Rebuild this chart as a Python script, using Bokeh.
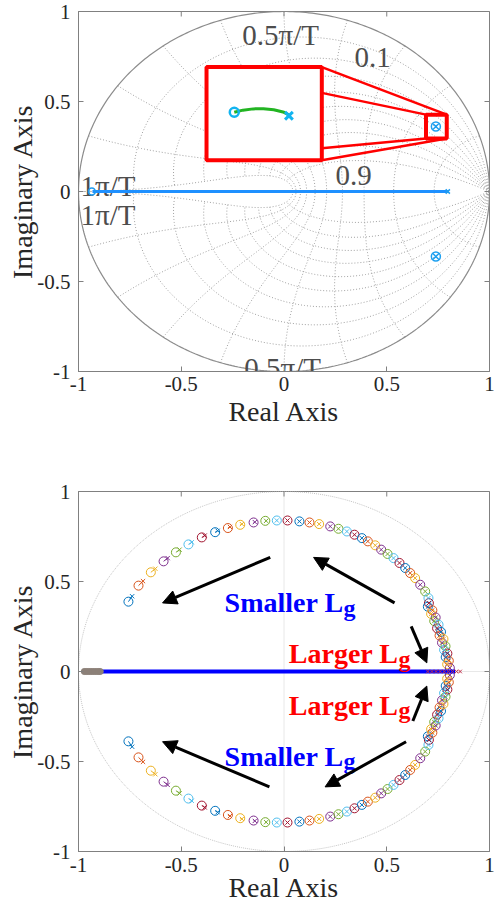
import numpy as np
from bokeh.plotting import figure
from bokeh.models import FixedTicker, Range1d, Arrow, NormalHead, ColumnDataSource
from bokeh.layouts import column
from bokeh.embed import file_html
from bokeh.resources import INLINE
from bokeh.core.properties import value

SERIF = "Liberation Serif"
TICKS = [-1, -0.5, 0, 0.5, 1]
TICK_LABELS = ["-1", "-0.5", "0", "0.5", "1"]

# ---------------- top plot data ----------------
locus_re = [-0.932, 0.797]
locus_im = [0.0, 0.0]
locus_zero_re = [-0.935]
locus_zero_im = [0.0]
locus_pole_re = [0.797]
locus_pole_im = [0.0]
cpx_re = [0.739, 0.739]
cpx_im = [0.361, -0.361]
inset_arc_re = [-0.242, -0.20, -0.15, -0.10, -0.05, 0.0, 0.024]
inset_arc_im = [0.440, 0.452, 0.459, 0.460, 0.454, 0.440, 0.426]
inset_zero_re = [-0.242]
inset_zero_im = [0.440]
inset_pole_re = [0.024]
inset_pole_im = [0.421]
zoom_small = dict(left=[0.691], right=[0.792], bottom=[0.295], top=[0.427])
zoom_big = dict(left=[-0.377], right=[0.184], bottom=[0.174], top=[0.691])
conn_x0 = [0.184, 0.184, 0.184, 0.184]
conn_y0 = [0.691, 0.548, 0.240, 0.174]
conn_x1 = [0.792, 0.691, 0.691, 0.792]
conn_y1 = [0.427, 0.427, 0.295, 0.295]
zgrid_zeta = [0.1, 0.2, 0.3, 0.4, 0.5, 0.6, 0.7, 0.8, 0.9]
zgrid_wn = [0.1, 0.2, 0.3, 0.4, 0.5, 0.6, 0.7, 0.8, 0.9, 1.0]   # x pi/T
grid_label_text = ["0.5π/T", "0.1", "0.9", "1π/T", "1π/T", "0.5π/T"]
grid_label_x = [-0.203, 0.343, 0.251, -0.99, -0.99, -0.193]
grid_label_y = [0.868, 0.747, 0.091, 0.030, -0.130, -0.978]

# ---------------- bottom plot data ----------------
# upper-half zeros (o) and poles (x); lower half is the conjugate
arc_zero_re = [-0.757, -0.708, -0.648, -0.586, -0.526, -0.465, -0.400, -0.335,
               -0.273, -0.213, -0.148, -0.091, -0.035, 0.017, 0.075, 0.124,
               0.171, 0.225, 0.265, 0.306, 0.343, 0.379, 0.408, 0.444, 0.473,
               0.504, 0.533, 0.562, 0.590, 0.614, 0.638, 0.663, 0.687, 0.703,
               0.705, 0.700, 0.722, 0.716, 0.738, 0.731, 0.752, 0.745, 0.764,
               0.757, 0.776, 0.769, 0.786, 0.779, 0.795, 0.787, 0.802, 0.794,
               0.807]
arc_zero_im = [0.388, 0.477, 0.551, 0.612, 0.662, 0.706, 0.745, 0.774,
               0.797, 0.815, 0.828, 0.837, 0.839, 0.839, 0.834, 0.828,
               0.819, 0.806, 0.793, 0.778, 0.760, 0.741, 0.723, 0.701, 0.677,
               0.653, 0.630, 0.603, 0.575, 0.547, 0.519, 0.482, 0.445, 0.408,
               0.380, 0.360, 0.340, 0.320, 0.300, 0.280, 0.260, 0.240, 0.220,
               0.200, 0.180, 0.160, 0.140, 0.120, 0.100, 0.080, 0.060, 0.040,
               0.020]
arc_pole_re = [-0.739, -0.686, -0.626, -0.566, -0.508, -0.449, -0.386, -0.323,
               -0.263, -0.205, -0.142, -0.087, -0.035, 0.017, 0.075, 0.124,
               0.171, 0.225, 0.265, 0.306, 0.343, 0.379, 0.408, 0.444, 0.473,
               0.504, 0.533, 0.562, 0.590, 0.614, 0.638, 0.663, 0.687, 0.703,
               0.705, 0.700, 0.722, 0.716, 0.738, 0.731, 0.752, 0.745, 0.764,
               0.757, 0.776, 0.769, 0.786, 0.779, 0.795, 0.787, 0.802, 0.794,
               0.807]
arc_pole_im = [0.418, 0.502, 0.571, 0.630, 0.677, 0.718, 0.755, 0.782,
               0.803, 0.819, 0.830, 0.837, 0.839, 0.839, 0.834, 0.828,
               0.819, 0.806, 0.793, 0.778, 0.760, 0.741, 0.723, 0.701, 0.677,
               0.653, 0.630, 0.603, 0.575, 0.547, 0.519, 0.482, 0.445, 0.408,
               0.380, 0.360, 0.340, 0.320, 0.300, 0.280, 0.260, 0.240, 0.220,
               0.200, 0.180, 0.160, 0.140, 0.120, 0.100, 0.080, 0.060, 0.040,
               0.020]
MATLAB_COLORS = ["#0072BD", "#D95319", "#EDB120", "#7E2F8E", "#77AC30",
                 "#4DBEEE", "#A2142F"]
real_line_re = [-0.967, 0.833]
real_line_im = [0.0, 0.0]
left_cluster_re = [-0.972, -0.962, -0.952, -0.942, -0.932, -0.922, -0.912, -0.902, -0.894]
right_cluster_re = [0.700, 0.720, 0.740, 0.760, 0.780, 0.800, 0.820, 0.840, 0.857]
arrow_x0 = [-0.067, 0.538, 0.619, 0.627, 0.594, -0.071]
arrow_y0 = [0.634, 0.381, 0.251, -0.275, -0.390, -0.641]
arrow_x1 = [-0.591, 0.144, 0.695, 0.695, 0.200, -0.591]
arrow_y1 = [0.381, 0.634, 0.048, -0.081, -0.641, -0.390]
ann_text = ["Smaller L", "Larger L", "Larger L", "Smaller L"]
ann_x_end = [0.290, 0.557, 0.557, 0.290]
ann_y = [0.381, 0.098, -0.187, -0.470]
ann_color = ["#0000FF", "#FF0000", "#FF0000", "#0000FF"]


def style_fig(p, x_std, x_lab_std):
    p.xgrid.visible = False
    p.ygrid.visible = False
    p.outline_line_color = "#808080"
    p.outline_line_width = 1
    p.xaxis.axis_label = "Real Axis"
    p.yaxis.axis_label = "Imaginary Axis"
    for ax in p.axis:
        ax.ticker = FixedTicker(ticks=TICKS)
        ax.major_label_overrides = {t: l for t, l in zip(TICKS, TICK_LABELS)}
        ax.major_label_text_font = SERIF
        ax.major_label_text_font_size = "21px"
        ax.major_label_text_color = "#262626"
        ax.axis_label_text_font = SERIF
        ax.axis_label_text_font_size = "28px"
        ax.axis_label_text_font_style = "normal"
        ax.axis_label_text_color = "#262626"
        ax.axis_line_color = "#808080"
        ax.major_tick_line_color = "#808080"
        ax.major_tick_in = 5
        ax.major_tick_out = 0
        ax.minor_tick_line_color = None
    p.xaxis.major_label_standoff = x_std
    p.xaxis.axis_label_standoff = x_lab_std
    p.yaxis.major_label_standoff = 8
    p.yaxis.axis_label_standoff = -4
    # inward ticks on the top and right edges of the box (clipped to frame)
    p.scatter(TICKS, [1] * len(TICKS), marker="dash", angle=np.pi / 2, size=10,
              line_color="#808080", line_width=1)
    p.scatter([1] * len(TICKS), TICKS, marker="dash", size=10,
              line_color="#808080", line_width=1)


# ================= TOP FIGURE =================
p1 = figure(width=503, height=440, x_range=Range1d(-1, 1), y_range=Range1d(-1, 1),
            output_backend="svg", toolbar_location=None,
            min_border_left=78, min_border_right=11, min_border_top=11,
            min_border_bottom=69)

# z-plane grid (constant damping and constant natural frequency curves)
gx, gy = [], []
w = np.linspace(0, np.pi, 200)
for z in zgrid_zeta:
    s = np.exp(-z * w) * np.exp(1j * w * np.sqrt(1 - z * z))
    gx += [s.real, s.real]
    gy += [s.imag, -s.imag]
zz = np.linspace(0, 1, 120)
for wn in zgrid_wn:
    wv = wn * np.pi
    s = np.exp(-zz * wv) * np.exp(1j * wv * np.sqrt(1 - zz * zz))
    gx += [s.real, s.real]
    gy += [s.imag, -s.imag]
p1.multi_line(gx, gy, line_color="#a0a0a0", line_dash="1 2", line_width=1)
th = np.linspace(0, 2 * np.pi, 400)
p1.line(np.cos(th), np.sin(th), line_color="#8c8c8c", line_width=1.2)
style_fig(p1, 5, 2)

p1.text(grid_label_x, grid_label_y, text=grid_label_text,
        text_font=value(SERIF), text_font_size="29px", text_color="#4d4d4d",
        text_align="left", text_baseline="alphabetic")

# root locus on the real axis
p1.line(locus_re, locus_im, line_color="#1E90FF", line_width=3)
p1.scatter(locus_zero_re, locus_zero_im, marker="circle", size=7,
           fill_color=None, line_color="#1E9BEF", line_width=1.5)
p1.scatter(locus_pole_re, locus_pole_im, marker="x", size=6,
           line_color="#1E9BEF", line_width=1.5)
p1.scatter(cpx_re, cpx_im, marker="circle_x", size=9, fill_color=None,
           line_color="#1EA0F0", line_width=1.5)

# zoom boxes
p1.segment(conn_x0, conn_y0, conn_x1, conn_y1, line_color="#FF0000", line_width=2.5)
p1.quad(source=ColumnDataSource(zoom_big), left="left", right="right",
        bottom="bottom", top="top", fill_color="white", line_color="#FF0000",
        line_width=4)
p1.quad(source=ColumnDataSource(zoom_small), left="left", right="right",
        bottom="bottom", top="top", fill_color=None, line_color="#FF0000",
        line_width=4)
p1.line(inset_arc_re, inset_arc_im, line_color="#22B422", line_width=3)
p1.scatter(inset_zero_re, inset_zero_im, marker="circle", size=9,
           fill_color=None, line_color="#12B4F0", line_width=2.5)
p1.scatter(inset_pole_re, inset_pole_im, marker="x", size=11,
           line_color="#12B4F0", line_width=3)

# ================= BOTTOM FIGURE =================
p2 = figure(width=503, height=466, x_range=Range1d(-1, 1), y_range=Range1d(-1, 1),
            output_backend="svg", toolbar_location=None,
            min_border_left=78, min_border_right=14, min_border_top=51,
            min_border_bottom=55)

p2.line(np.cos(th), np.sin(th), line_color="#c4c4c4", line_dash="1 1", line_width=1)
p2.line([-1, 1], [0, 0], line_color="#d0d0d0", line_dash="1 1", line_width=1)
p2.line([0, 0], [-1, 1], line_color="#d0d0d0", line_dash="1 1", line_width=1)
style_fig(p2, 6, -3)

n = len(arc_zero_re)
cols = [MATLAB_COLORS[i % 7] for i in range(n)]
zr = arc_zero_re + arc_zero_re
zi = arc_zero_im + [-v for v in arc_zero_im]
pr = arc_pole_re + arc_pole_re
pim = arc_pole_im + [-v for v in arc_pole_im]
cc = cols + cols
p2.segment(zr, zi, pr, pim, line_color=cc, line_width=1)
p2.scatter(zr, zi, marker="circle", size=9, fill_color=None, line_color=cc,
           line_width=1)
p2.scatter(pr, pim, marker="x", size=6, line_color=cc, line_width=1)

p2.line(real_line_re, real_line_im, line_color="#0000FF", line_width=4)
p2.scatter(left_cluster_re, [0] * len(left_cluster_re), marker="circle", size=6,
           fill_color="#8c8078", line_color="#8c8078", line_width=1)
p2.scatter(right_cluster_re, [0] * len(right_cluster_re), marker="x", size=5,
           line_color="#C0304A", line_width=1)

arr_src = ColumnDataSource(dict(x0=arrow_x0, y0=arrow_y0, x1=arrow_x1, y1=arrow_y1))
p2.add_layout(Arrow(end=NormalHead(size=14, fill_color="black", line_color="black"),
                    x_start="x0", y_start="y0", x_end="x1", y_end="y1",
                    source=arr_src, line_color="black", line_width=3))

p2.text(ann_x_end, ann_y, text=ann_text, text_color=ann_color,
        text_font=value(SERIF), text_font_size="28px", text_font_style="bold",
        text_align="right", text_baseline="alphabetic")
p2.text(ann_x_end, ann_y, text=["g"] * len(ann_x_end), text_color=ann_color,
        text_font=value(SERIF), text_font_size="24px", text_font_style="bold",
        text_align="left", text_baseline="alphabetic", y_offset=5)

layout = column(p1, p2)
open("out.html", "w").write(file_html(layout, INLINE))
